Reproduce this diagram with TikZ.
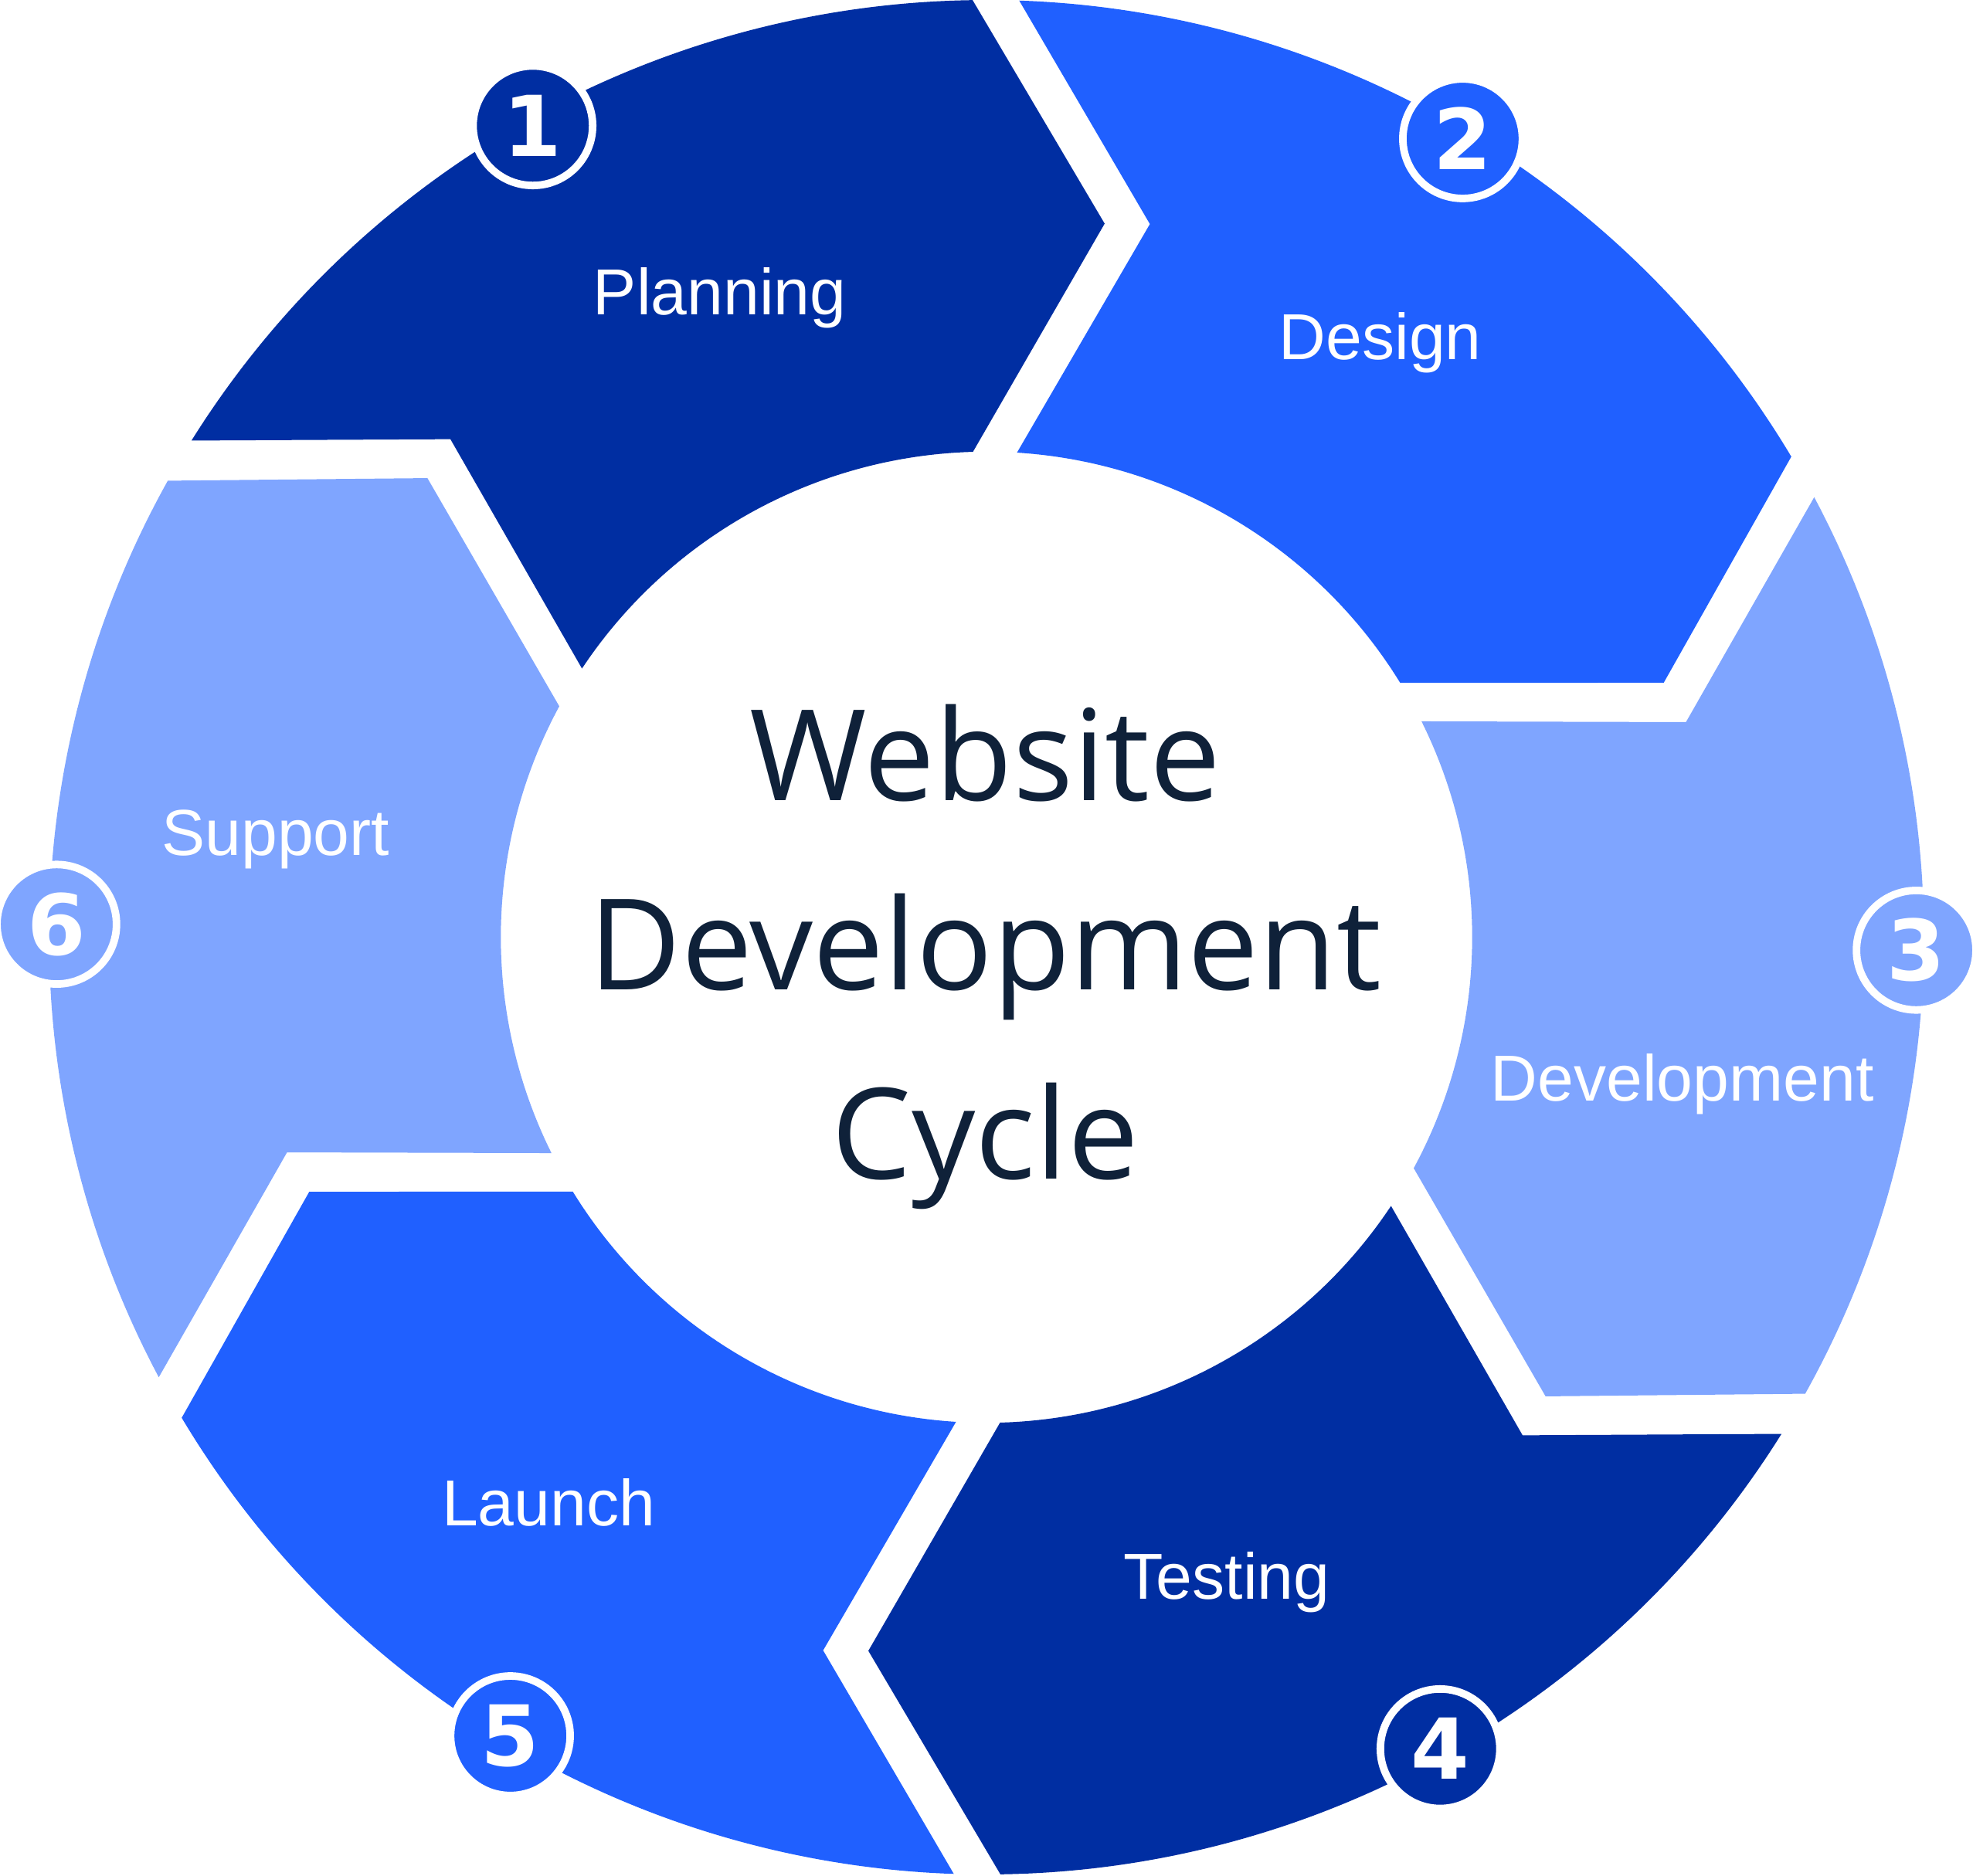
\documentclass[tikz,border=0pt]{standalone}
\usepackage{fontspec}
\setmainfont{Liberation Sans}
\newfontfamily\titlefont{Open Sans}
\newfontfamily\numfont{DejaVu Sans}

\definecolor{darkblue}{HTML}{002EA2}
\definecolor{midblue}{HTML}{2060FF}
\definecolor{lightblue}{HTML}{7FA5FF}
\definecolor{navy}{HTML}{0F2139}

\tikzset{
  seglabel/.style={text=white, anchor=base, inner sep=0pt,
    font=\fontsize{14.7}{17}\selectfont},
  numcirc/.style={circle, draw=white, line width=0.6mm, minimum size=9.5mm,
    inner sep=0pt, text=white, font=\numfont\bfseries\fontsize{19}{19}\selectfont},
  titletext/.style={text=navy, align=center, anchor=base, inner sep=0pt,
    font=\titlefont\fontsize{28.6}{42.8}\selectfont}
}

\begin{document}
\begin{tikzpicture}
  \useasboundingbox (-7.84,-7.46) rectangle (7.84,7.45);

  % ring of six arrow segments
  \foreach \k/\col in {0/darkblue,1/midblue,2/lightblue,3/darkblue,4/midblue,5/lightblue}
    \fill[\col, rotate=-60*\k] (148:7.45) arc[start angle=148, end angle=90.85, radius=7.45]
      -- (80.6:5.75) -- (91.6:3.86) arc[start angle=91.6, end angle=146.4, radius=3.86]
      -- (137.1:5.816) -- cycle;

  % stage names
  \node[seglabel] (plan) at (-2.12,4.95) {Planning};
  \node[seglabel] (design) at (3.13,4.59) {Design};
  \node[seglabel] (dev) at (5.53,-1.30) {Development};
  \node[seglabel] (test) at (1.91,-5.26) {Testing};
  \node[seglabel] (launch) at (-3.48,-4.68) {Launch};
  \node[seglabel] (support) at (-5.65,0.65) {Support};

  % numbers
  \node[numcirc, fill=darkblue] (n1) at (119.2:7.39) {1};
  \node[numcirc, fill=midblue] (n2) at (59.2:7.39) {2};
  \node[numcirc, fill=lightblue] (n3) at (-0.8:7.39) {3};
  \node[numcirc, fill=darkblue] (n4) at (-60.8:7.39) {4};
  \node[numcirc, fill=midblue] (n5) at (-120.8:7.39) {5};
  \node[numcirc, fill=lightblue] (n6) at (179.2:7.39) {6};

  % centre (base = last line)
  \node[titletext] (title) at (-0.01,-1.92) {Website\\Development\\Cycle};
\end{tikzpicture}
\end{document}
